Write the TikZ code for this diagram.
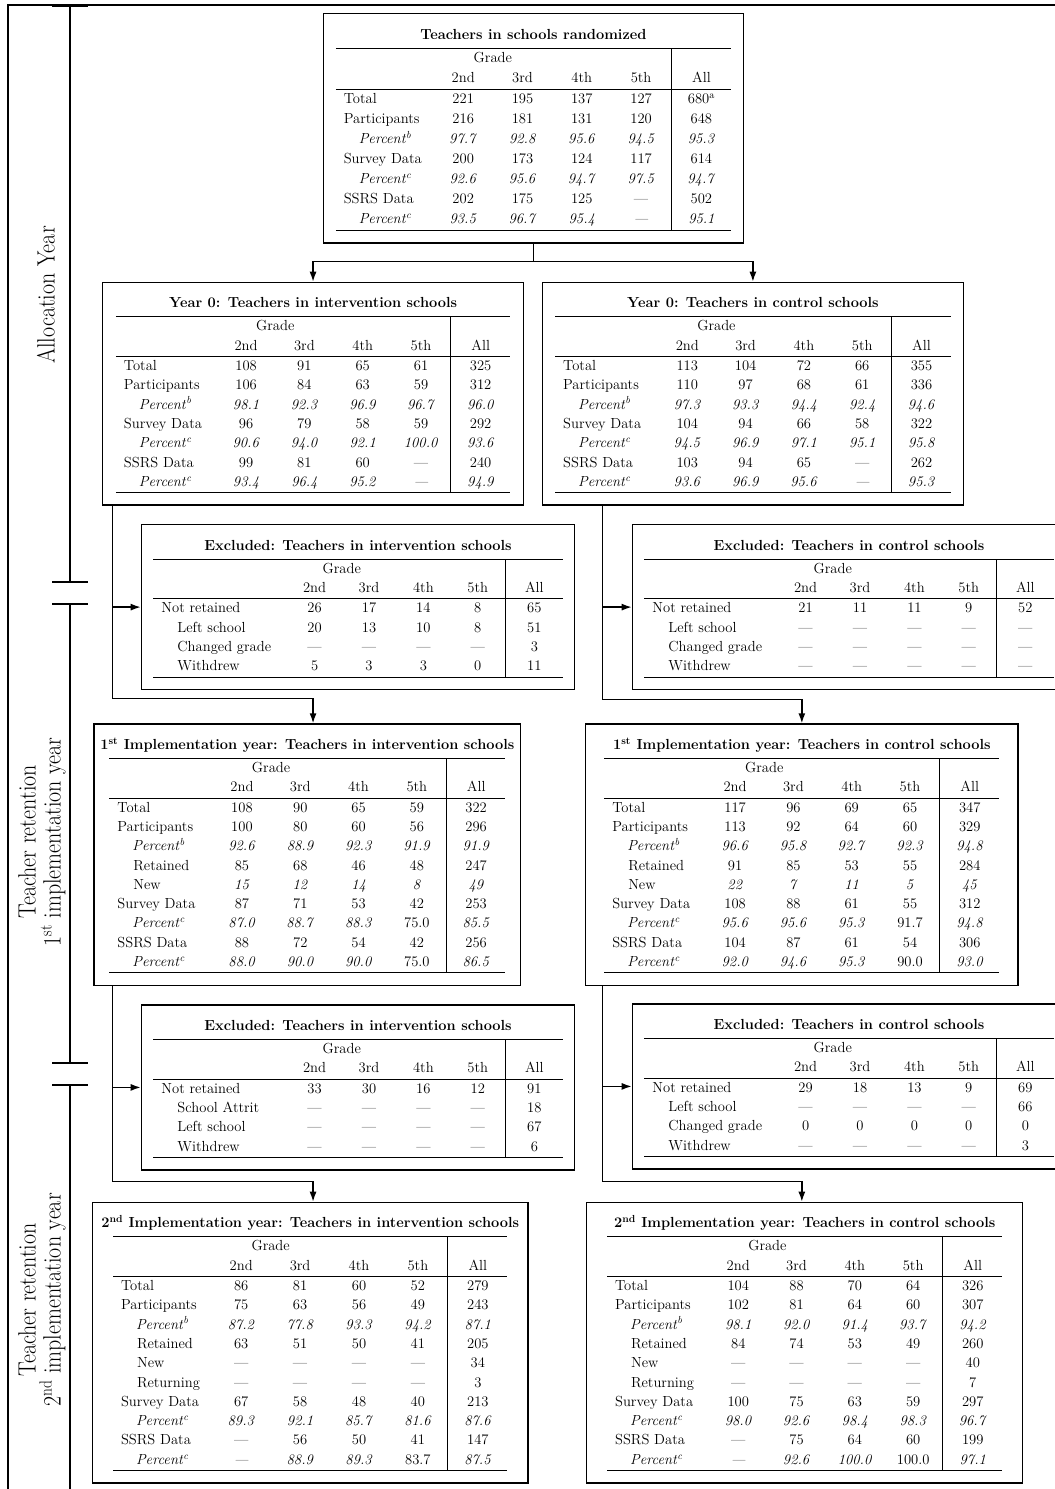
\documentclass[tikz,border=0pt]{standalone}
\usepackage{array}
\usetikzlibrary{arrows.meta}

\setlength{\arrayrulewidth}{1pt}
\setlength{\tabcolsep}{0pt}
\newcommand{\dash}{---}
\newcommand{\sub}[1]{\hspace*{16pt}#1}
\newcommand{\prow}[6]{\hspace*{15pt}\textit{Percent}\textsuperscript{\textit{#1}} & \textit{#2} & \textit{#3} & \textit{#4} & \textit{#5} & \textit{#6}}
% label width, grade column width, all column width, title, rows
\newcommand{\tablebox}[5]{%
  \begin{tabular}{@{\hspace{8pt}}w{l}{#1}*{4}{w{c}{#2}}|w{c}{#3}@{}}
    \multicolumn{6}{c}{\rule[-8.5pt]{0pt}{20.5pt}\makebox[0pt]{\bfseries #4}}\\ \hline
    & \multicolumn{2}{c}{Grade} & & & \\
    & 2nd & 3rd & 4th & 5th & All \\ \hline
    #5 \\ \hline
  \end{tabular}}

\begin{document}
\begin{tikzpicture}
    [x=1pt,y=-1pt,
    tbox/.style={draw, line width=1.4pt, anchor=north west, inner xsep=0pt, inner ysep=12pt,
      font=\fontsize{14.6}{19.3}\selectfont},
    conn/.style={line width=1.4pt},
    arrow/.style={conn, -{Latex[length=10pt,width=7pt]}},
    side/.style={rotate=90, xscale=0.88, align=center, font=\fontsize{25}{25}\selectfont}]
    \useasboundingbox (0,0) rectangle (1055,1489);
    %frame
    \draw[conn] (8,1489) -- (8,5) -- (1055,5);
    %time line
    \draw[line width=3pt] (52,5) -- (88,5);
    \draw[conn] (70,5) -- (70,582);
    \draw[conn] (52,582) -- (88,582);
    \draw[conn] (52,604) -- (88,604);
    \draw[conn] (70,604) -- (70,1063);
    \draw[conn] (52,1063) -- (88,1063);
    \draw[conn] (52,1085) -- (88,1085);
    \draw[conn] (70,1085) -- (70,1489);
    \node[side] (alloc) at (46,295) {Allocation Year};
    \node[side] (ret1) at (42,842) {Teacher retention\\1\textsuperscript{st} implementation year};
    \node[side] (ret2) at (42,1300) {Teacher retention\\2\textsuperscript{nd} implementation year};
    %randomized
    \node[tbox, minimum width=420pt, font=\fontsize{14.6}{20}\selectfont] (rand) at (322.7,12.7)
    {\tablebox{89.8pt}{59.3pt}{59.3pt}{Teachers in schools randomized}{
      Total & 221 & 195 & 137 & 127 & 680\textsuperscript{a}\\
      Participants & 216 & 181 & 131 & 120 & 648\\
      \prow{b}{97.7}{92.8}{95.6}{94.5}{95.3}\\
      Survey Data & 200 & 173 & 124 & 117 & 614\\
      \prow{c}{92.6}{95.6}{94.7}{97.5}{94.7}\\
      SSRS Data & 202 & 175 & 125 & \dash & 502\\
      \prow{c}{93.5}{96.7}{95.4}{\dash}{95.1}}};
    %year 0
    \node[tbox, minimum width=421.3pt] (int0) at (101.7,281.7)
    {\tablebox{93pt}{58.3pt}{59pt}{Year 0: Teachers in intervention schools}{
      Total & 108 & 91 & 65 & 61 & 325\\
      Participants & 106 & 84 & 63 & 59 & 312\\
      \prow{b}{98.1}{92.3}{96.9}{96.7}{96.0}\\
      Survey Data & 96 & 79 & 58 & 59 & 292\\
      \prow{c}{90.6}{94.0}{92.1}{100.0}{93.6}\\
      SSRS Data & 99 & 81 & 60 & \dash & 240\\
      \prow{c}{93.4}{96.4}{95.2}{\dash}{94.9}}};
    \node[tbox, minimum width=421pt] (con0) at (541.7,281.7)
    {\tablebox{95pt}{58.3pt}{58.3pt}{Year 0: Teachers in control schools}{
      Total & 113 & 104 & 72 & 66 & 355\\
      Participants & 110 & 97 & 68 & 61 & 336\\
      \prow{b}{97.3}{93.3}{94.4}{92.4}{94.6}\\
      Survey Data & 104 & 94 & 66 & 58 & 322\\
      \prow{c}{94.5}{96.9}{97.1}{95.1}{95.8}\\
      SSRS Data & 103 & 94 & 65 & \dash & 262\\
      \prow{c}{93.6}{96.9}{95.6}{\dash}{95.3}}};
    %excluded after year 0
    \node[tbox, minimum width=433.3pt] (exi1) at (140.7,524)
    {\tablebox{126pt}{54.4pt}{56.7pt}{Excluded: Teachers in intervention schools}{
      Not retained & 26 & 17 & 14 & 8 & 65\\
      \sub{Left school} & 20 & 13 & 10 & 8 & 51\\
      \sub{Changed grade} & \dash & \dash & \dash & \dash & 3\\
      \sub{Withdrew} & 5 & 3 & 3 & 0 & 11}};
    \node[tbox, minimum width=433.3pt] (exc1) at (631.7,524)
    {\tablebox{126pt}{54.4pt}{56.7pt}{Excluded: Teachers in control schools}{
      Not retained & 21 & 11 & 11 & 9 & 52\\
      \sub{Left school} & \dash & \dash & \dash & \dash & \dash\\
      \sub{Changed grade} & \dash & \dash & \dash & \dash & \dash\\
      \sub{Withdrew} & \dash & \dash & \dash & \dash & \dash}};
    %1st implementation year
    \node[tbox, minimum width=426.7pt] (int1) at (93.3,723.3)
    {\tablebox{95.4pt}{58.3pt}{58.3pt}{1\textsuperscript{st} Implementation year: Teachers in intervention schools}{
      Total & 108 & 90 & 65 & 59 & 322\\
      Participants & 100 & 80 & 60 & 56 & 296\\
      \prow{b}{92.6}{88.9}{92.3}{91.9}{91.9}\\
      \sub{Retained} & 85 & 68 & 46 & 48 & 247\\
      \sub{New} & \textit{15} & \textit{12} & \textit{14} & \textit{8} & \textit{49}\\
      Survey Data & 87 & 71 & 53 & 42 & 253\\
      \prow{c}{87.0}{88.7}{88.3}{\upshape 75.0}{85.5}\\
      SSRS Data & 88 & 72 & 54 & 42 & 256\\
      \prow{c}{88.0}{90.0}{90.0}{\upshape 75.0}{86.5}}};
    \node[tbox, minimum width=432.3pt] (con1) at (585,723.3)
    {\tablebox{93.7pt}{58.3pt}{59.3pt}{1\textsuperscript{st} Implementation year: Teachers in control schools}{
      Total & 117 & 96 & 69 & 65 & 347\\
      Participants & 113 & 92 & 64 & 60 & 329\\
      \prow{b}{96.6}{95.8}{92.7}{92.3}{94.8}\\
      \sub{Retained} & 91 & 85 & 53 & 55 & 284\\
      \sub{New} & \textit{22} & \textit{7} & \textit{11} & \textit{5} & \textit{45}\\
      Survey Data & 108 & 88 & 61 & 55 & 312\\
      \prow{c}{95.6}{95.6}{95.3}{\upshape 91.7}{94.8}\\
      SSRS Data & 104 & 87 & 61 & 54 & 306\\
      \prow{c}{92.0}{94.6}{95.3}{\upshape 90.0}{93.0}}};
    %excluded after 1st implementation year
    \node[tbox, minimum width=433.3pt] (exi2) at (140.7,1004.3)
    {\tablebox{126pt}{54.4pt}{56.7pt}{Excluded: Teachers in intervention schools}{
      Not retained & 33 & 30 & 16 & 12 & 91\\
      \sub{School Attrit} & \dash & \dash & \dash & \dash & 18\\
      \sub{Left school} & \dash & \dash & \dash & \dash & 67\\
      \sub{Withdrew} & \dash & \dash & \dash & \dash & 6}};
    \node[tbox, minimum width=433.3pt] (exc2) at (631.7,1003.3)
    {\tablebox{126pt}{54.4pt}{56.7pt}{Excluded: Teachers in control schools}{
      Not retained & 29 & 18 & 13 & 9 & 69\\
      \sub{Left school} & \dash & \dash & \dash & \dash & 66\\
      \sub{Changed grade} & 0 & 0 & 0 & 0 & 0\\
      \sub{Withdrew} & \dash & \dash & \dash & \dash & 3}};
    %2nd implementation year
    \node[tbox, minimum width=435.6pt] (int2) at (91.7,1201.7)
    {\tablebox{90.7pt}{58.9pt}{59pt}{2\textsuperscript{nd} Implementation year: Teachers in intervention schools}{
      Total & 86 & 81 & 60 & 52 & 279\\
      Participants & 75 & 63 & 56 & 49 & 243\\
      \prow{b}{87.2}{77.8}{93.3}{94.2}{87.1}\\
      \sub{Retained} & 63 & 51 & 50 & 41 & 205\\
      \sub{New} & \dash & \dash & \dash & \dash & 34\\
      \sub{Returning} & \dash & \dash & \dash & \dash & 3\\
      Survey Data & 67 & 58 & 48 & 40 & 213\\
      \prow{c}{89.3}{92.1}{85.7}{81.6}{87.6}\\
      SSRS Data & \dash & 56 & 50 & 41 & 147\\
      \prow{c}{\dash}{88.9}{89.3}{\upshape 83.7}{87.5}}};
    \node[tbox, minimum width=436pt] (con2) at (586,1201.7)
    {\tablebox{94pt}{58.3pt}{59pt}{2\textsuperscript{nd} Implementation year: Teachers in control schools}{
      Total & 104 & 88 & 70 & 64 & 326\\
      Participants & 102 & 81 & 64 & 60 & 307\\
      \prow{b}{98.1}{92.0}{91.4}{93.7}{94.2}\\
      \sub{Retained} & 84 & 74 & 53 & 49 & 260\\
      \sub{New} & \dash & \dash & \dash & \dash & 40\\
      \sub{Returning} & \dash & \dash & \dash & \dash & 7\\
      Survey Data & 100 & 75 & 63 & 59 & 297\\
      \prow{c}{98.0}{92.6}{98.4}{98.3}{96.7}\\
      SSRS Data & \dash & 75 & 64 & 60 & 199\\
      \prow{c}{\dash}{92.6}{100.0}{\upshape 100.0}{97.1}}};
    %connectors
    \coordinate (split) at ([yshift=-18pt]rand.south);
    \draw[conn] (rand.south) -- (split);
    \draw[arrow] (split) -| (int0.north);
    \draw[arrow] (split) -| (con0.north);
    \coordinate (sti1) at ([xshift=11pt]int0.south west);
    \coordinate (stc1) at ([xshift=61pt]con0.south west);
    \draw[arrow] (sti1) |- ([yshift=25pt]int1.north -| int0.south) -- (int1.north -| int0.south);
    \draw[arrow] (exi1.west -| sti1) -- (exi1.west);
    \draw[arrow] (stc1) |- ([yshift=24pt]con1.north) -- (con1.north);
    \draw[arrow] (exc1.west -| stc1) -- (exc1.west);
    \coordinate (sti2) at (int1.south -| sti1);
    \coordinate (stc2) at (con1.south -| stc1);
    \draw[arrow] (sti2) |- ([yshift=20pt]int2.north -| int0.south) -- (int2.north -| int0.south);
    \draw[arrow] (exi2.west -| sti2) -- (exi2.west);
    \draw[arrow] (stc2) |- ([yshift=20pt]con2.north -| con1.south) -- (con2.north -| con1.south);
    \draw[arrow] (exc2.west -| stc2) -- (exc2.west);
\end{tikzpicture}
\end{document}
